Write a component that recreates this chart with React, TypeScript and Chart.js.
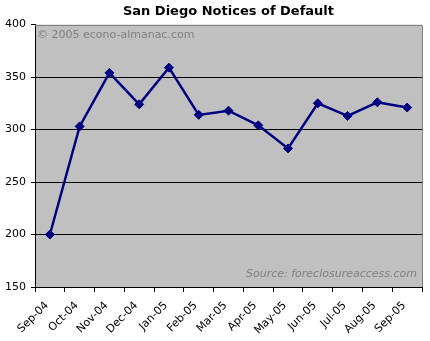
import React, { useEffect, useRef } from "react";
import { Chart, registerables } from "chart.js";

Chart.register(...registerables);

const categories = ["Sep-04", "Oct-04", "Nov-04", "Dec-04", "Jan-05", "Feb-05", "Mar-05", "Apr-05", "May-05", "Jun-05", "Jul-05", "Aug-05", "Sep-05"];
const notices = [200, 303, 354, 324, 359, 314, 318, 304, 282, 325, 313, 326, 321];
const yTicks = [150, 200, 250, 300, 350, 400];
const titleText = "San Diego Notices of Default";
const copyrightText = "© 2005 econo-almanac.com";
const sourceText = "Source: foreclosureaccess.com";

const FONT = "'DejaVu Sans', Verdana, sans-serif";

const plotPlugin = {
  id: "plotDecor",
  beforeDraw(chart: any) {
    const { ctx, chartArea: a } = chart;
    ctx.save();
    ctx.fillStyle = "#c0c0c0";
    ctx.fillRect(a.left, a.top, a.right - a.left, a.bottom - a.top);
    ctx.restore();
  },
  beforeDatasetsDraw(chart: any) {
    const { ctx, chartArea: a } = chart;
    ctx.save();
    ctx.fillStyle = "#808080";
    ctx.font = `11px ${FONT}`;
    ctx.textBaseline = "middle";
    ctx.textAlign = "left";
    ctx.fillText(copyrightText, a.left + 2, a.top + 11);
    ctx.font = `italic 11px ${FONT}`;
    ctx.textAlign = "right";
    ctx.fillText(sourceText, a.right - 5, a.bottom - 12.5);
    ctx.strokeStyle = "#808080";
    ctx.lineWidth = 1;
    ctx.beginPath();
    ctx.moveTo(Math.round(a.left), Math.round(a.top) + 0.5);
    ctx.lineTo(Math.round(a.right) + 0.5, Math.round(a.top) + 0.5);
    ctx.lineTo(Math.round(a.right) + 0.5, Math.round(a.bottom));
    ctx.stroke();
    ctx.restore();
  },
};

export default function App() {
  const ref = useRef<HTMLCanvasElement>(null);
  useEffect(() => {
    document.body.style.margin = "0";
    const chart = new Chart(ref.current!, {
      type: "line",
      data: {
        labels: categories,
        datasets: [
          {
            data: notices,
            borderColor: "#000080",
            backgroundColor: "#000080",
            borderWidth: 2.5,
            pointStyle: "rectRot",
            pointRadius: 4.5,
            pointBorderWidth: 1,
            tension: 0,
          },
        ],
      },
      options: {
        responsive: false,
        animation: false,
        layout: { padding: { top: 0, right: 8, left: 0, bottom: 0 } },
        plugins: {
          legend: { display: false },
          tooltip: { enabled: false },
          title: {
            display: true,
            text: titleText,
            color: "#000",
            font: { family: FONT, size: 13, weight: "bold", lineHeight: 1.2 },
            padding: { top: 4, bottom: 5 },
            fullSize: false,
          },
        },
        scales: {
          x: {
            offset: true,
            grid: {
              offset: true,
              drawOnChartArea: false,
              drawTicks: true,
              tickLength: 5,
              color: "#000",
            },
            border: { color: "#000", width: 1 },
            ticks: {
              color: "#000",
              font: { family: FONT, size: 11 },
              maxRotation: 45,
              minRotation: 45,
              autoSkip: false,
              padding: 7,
              labelOffset: -3,
            },
            afterFit(scale: any) {
              scale.height = 54;
            },
          },
          y: {
            min: 150,
            max: 400,
            afterBuildTicks(scale: any) {
              scale.ticks = yTicks.map((v) => ({ value: v }));
            },
            grid: {
              color: (c: any) => (c.tick && c.tick.value === 400 ? "rgba(0,0,0,0)" : "#000"),
              tickColor: "#000",
              tickLength: 4,
              lineWidth: 1,
            },
            border: { color: "#000", width: 1 },
            ticks: {
              color: "#000",
              font: { family: FONT, size: 11 },
              padding: 5,
            },
            afterFit(scale: any) {
              scale.width = 35;
            },
          },
        },
      },
      plugins: [plotPlugin],
    });
    return () => chart.destroy();
  }, []);
  return (
    <div style={{ width: 430, height: 341, background: "#fff" }}>
      <canvas ref={ref} width={430} height={341} />
    </div>
  );
}
